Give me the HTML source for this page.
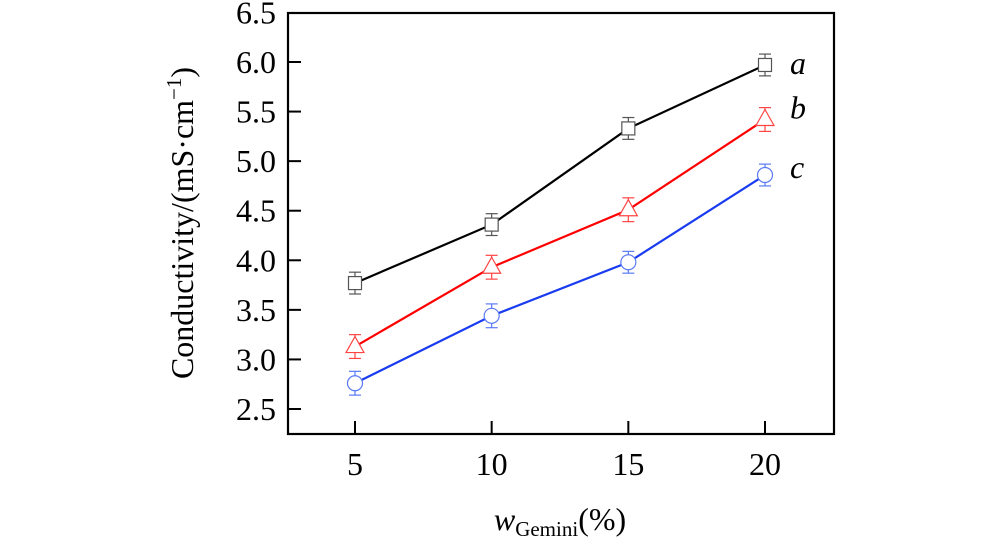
<!DOCTYPE html>
<html><head><meta charset="utf-8"><style>
body{margin:0;background:#fff;}
svg text{font-family:"Liberation Serif","Times New Roman",serif !important;}
</style></head><body>
<svg width="1000" height="553" viewBox="0 0 1000 553" font-family="Liberation Serif, serif">
<g id="axes"></g><g id="plot"></g>
</svg>
<script>
const categories=[5,10,15,20];
const seriesA=[3.77,4.36,5.33,5.97];
const seriesB=[3.13,3.93,4.51,5.42];
const seriesC=[2.76,3.44,3.98,4.86];
const errA=[0.11,0.11,0.11,0.11];
const errB=[0.12,0.12,0.12,0.12];
const errC=[0.12,0.12,0.11,0.11];
const yTicks=["2.5","3.0","3.5","4.0","4.5","5.0","5.5","6.0","6.5"];
const xTicks=["5","10","15","20"];
const seriesNames=["a","b","c"];
const labelValues=[5.97,5.52,4.92];

const NS="http://www.w3.org/2000/svg";
const L=288,R=834,T=13,B=434;
const xs=v=>355+(v-5)*(765-355)/15;
const ys=v=>409-(v-2.5)*(409-62)/3.5;
const axes=document.getElementById('axes'),plot=document.getElementById('plot');
function mk(tag,attrs,parent,text){const e=document.createElementNS(NS,tag);for(const k in attrs)e.setAttribute(k,attrs[k]);if(tag==='text')e.setAttribute('font-family','Liberation Serif, serif');if(text!==undefined)e.textContent=text;parent.appendChild(e);return e;}
let fr=mk('rect',{x:L,y:T,width:R-L,height:B-T,fill:'none',stroke:'#000','stroke-width':2.2},axes);


yTicks.forEach(t=>{const y=ys(+t);
 if(+t<6.5){let l=mk('line',{x1:L,x2:L+13,y1:y,y2:y,stroke:'#000','stroke-width':2},axes);
 
 }
 let tx=mk('text',{x:L-12,y:y+11,'text-anchor':'end','font-size':32},axes,t);
 
 
});
xTicks.forEach(t=>{const x=xs(+t);
 let l=mk('line',{x1:x,x2:x,y1:B,y2:B-13,stroke:'#000','stroke-width':2},axes);
 
 
 let tx=mk('text',{x:x,y:B+41,'text-anchor':'middle','font-size':32},axes,t);
 
 
});
let xt=mk('text',{x:560,y:530,'text-anchor':'middle','font-size':32},axes);


xt.innerHTML='<tspan font-style="italic">w</tspan><tspan font-size="21" dy="6">Gemini</tspan><tspan dy="-6">(%)</tspan>';
let yt=mk('text',{transform:'translate(193,223) rotate(-90)','text-anchor':'middle','font-size':32},axes);


yt.innerHTML='Conductivity/(mS·cm<tspan font-size="21" dy="-12">−1</tspan><tspan dy="12">)</tspan>';

const series=[[seriesA,errA,'#000','#555','square'],[seriesB,errB,'#f00','#f44','triangle'],[seriesC,errC,'#1a3cf0','#5a7af5','circle']];
series.forEach((s,si)=>{const [vals,err,lc,mc,shape]=s;
 const g=mk('g',{},plot);
 
 
 const pts=vals.map((v,i)=>xs(categories[i])+','+ys(v)).join(' ');
 let pl=mk('polyline',{points:pts,fill:'none',stroke:lc,'stroke-width':2.2},g);
 
 
 vals.forEach((v,i)=>{const x=xs(categories[i]),y=ys(v),y1=ys(v+err[i]),y2=ys(v-err[i]);
  mk('line',{x1:x,x2:x,y1:y1,y2:y2,stroke:mc,'stroke-width':1.2},g);
  mk('line',{x1:x-6,x2:x+6,y1:y1,y2:y1,stroke:mc,'stroke-width':1.2},g);
  mk('line',{x1:x-6,x2:x+6,y1:y2,y2:y2,stroke:mc,'stroke-width':1.2},g);
  let m;
  if(shape==='square')m=mk('rect',{x:x-6.5,y:y-6.5,width:13,height:13,fill:'#fff',stroke:mc,'stroke-width':1.2},g);
  else if(shape==='triangle')m=mk('polygon',{points:`${x},${y-10} ${x-9},${y+6} ${x+9},${y+6}`,fill:'#fff',stroke:mc,'stroke-width':1.2},g);
  else m=mk('circle',{cx:x,cy:y,r:7.5,fill:'#fff',stroke:mc,'stroke-width':1.2},g);
  
  
 });
 let lb=mk('text',{x:790,y:ys(labelValues[si])+9,'font-size':32,'font-style':'italic'},g,seriesNames[si]);
 
 
});
</script>
</body></html>
